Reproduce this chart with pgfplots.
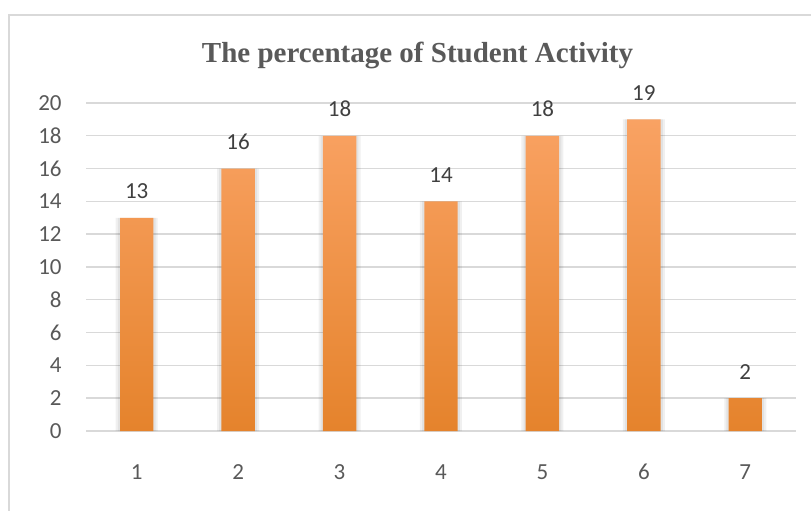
\documentclass[border=0pt]{standalone}
\usepackage{pgfplots}
\pgfplotsset{compat=1.18}
\usepackage{fontspec}
\setmainfont{Carlito}
\newfontfamily\titlefont{Liberation Serif}
\definecolor{txt}{HTML}{595959}
\definecolor{gridc}{HTML}{D9D9D9}
\definecolor{bartop}{HTML}{F9A263}
\definecolor{barmid}{HTML}{F7953E}
\definecolor{barbot}{HTML}{E5832C}
\pgfplotstableread{
x y
1 13
2 16
3 18
4 14
5 18
6 19
7 2
}\datatable
\begin{document}
\begin{tikzpicture}
\path[use as bounding box] (0bp,0bp) rectangle (405.5bp,255.5bp);
\draw[gridc, line width=1bp] (4.5bp,0bp) -- (4.5bp,248bp) -- (405.5bp,248bp);
\node[anchor=base, text=txt, inner sep=0pt, font=\titlefont\bfseries\fontsize{14.5bp}{17bp}\selectfont] at (208.75bp,224bp) {The percentage of Student Activity};
\begin{axis}[
  at={(43bp,40bp)}, anchor=south west,
  scale only axis, width=355bp, height=164bp,
  xmin=0.5, xmax=7.5, ymin=0, ymax=20,
  ybar, bar width=16.7bp,
  xtick={1,...,7}, ytick={0,2,...,20},
  axis line style={draw=none}, major tick length=0pt,
  ymajorgrids, grid style={gridc, line width=0.7bp},
  tick label style={text=txt, font=\fontsize{11.5bp}{13bp}\selectfont},
  /pgf/number format/assume math mode=true,
  yticklabel style={anchor=east, inner sep=0pt, xshift=-12bp},
  xticklabel style={anchor=center, inner sep=0pt, yshift=-20.35bp},
  clip=false,
]
\addplot[draw=none, fill=black, fill opacity=0.06, bar width=21bp, bar shift=0pt, forget plot] table[x=x,y=y] {\datatable};
\addplot[draw=none, fill=black, fill opacity=0.06, bar width=18.9bp, bar shift=0pt, forget plot] table[x=x,y=y] {\datatable};
\addplot[draw=none, top color=bartop, middle color=barmid, bottom color=barbot, bar shift=0pt,
  nodes near coords,
  nodes near coords style={anchor=base, inner sep=0pt, yshift=9.5bp, text=black!75, font=\fontsize{11.5bp}{13bp}\selectfont, /pgf/number format/assume math mode=true}
] table[x=x,y=y] {\datatable};
\end{axis}
\end{tikzpicture}
\end{document}
